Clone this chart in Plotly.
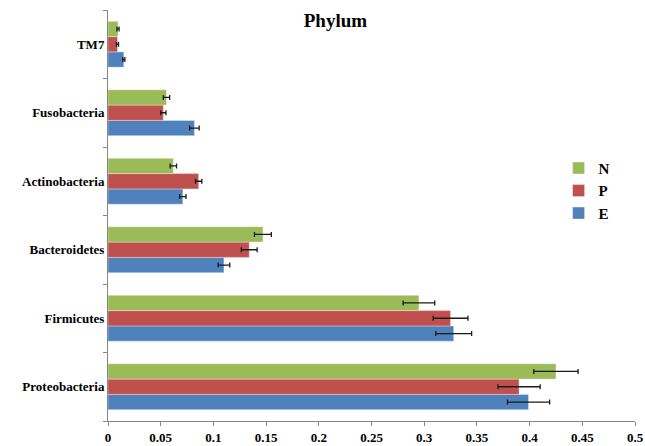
import plotly.graph_objects as go

# Phylum-level relative abundance (mean ± SE) for groups E, P, N
phyla = ["Proteobacteria", "Firmicutes", "Bacteroidetes",
         "Actinobacteria", "Fusobacteria", "TM7"]

e_vals = [0.399, 0.328, 0.110, 0.071, 0.082, 0.015]
e_err = [0.020, 0.017, 0.0055, 0.003, 0.0045, 0.001]

p_vals = [0.390, 0.325, 0.134, 0.086, 0.0525, 0.009]
p_err = [0.020, 0.0165, 0.0075, 0.003, 0.0025, 0.001]

n_vals = [0.425, 0.295, 0.147, 0.062, 0.0555, 0.0095]
n_err = [0.021, 0.015, 0.008, 0.003, 0.003, 0.001]

x_ticks = [0, 0.05, 0.1, 0.15, 0.2, 0.25, 0.3, 0.35, 0.4, 0.45, 0.5]
x_tick_text = ["0", "0.05", "0.1", "0.15", "0.2", "0.25", "0.3",
               "0.35", "0.4", "0.45", "0.5"]

series = [
    ("E", e_vals, e_err, "#4F81BD"),
    ("P", p_vals, p_err, "#C0504D"),
    ("N", n_vals, n_err, "#9BBB59"),
]

FONT = "'Liberation Serif', 'Times New Roman', serif"

fig = go.Figure()
for name, vals, errs, color in series:
    fig.add_trace(go.Bar(
        y=phyla, x=vals, name="<b>%s</b>" % name, orientation="h",
        marker=dict(color=color, line=dict(color="rgba(255,255,255,0.6)", width=0.6)),
        error_x=dict(type="data", array=errs, visible=True,
                     color="#1a1a1a", thickness=1.3, width=2.5),
        legendgroup=name,
    ))

fig.update_layout(
    width=645, height=446,
    margin=dict(l=108, r=10, t=10, b=25, autoexpand=False),
    paper_bgcolor="white", plot_bgcolor="white",
    barmode="group", bargap=0.33, bargroupgap=0,
    font=dict(family=FONT, color="black"),
    title=dict(text="<b>Phylum</b>", x=0.52, xanchor="center",
               y=0.955, yanchor="middle",
               font=dict(family=FONT, size=19, color="black")),
    legend=dict(x=0.855, y=0.56, xanchor="left", yanchor="middle",
                traceorder="reversed", tracegroupgap=9,
                font=dict(family=FONT, size=15, color="black"),
                bgcolor="rgba(0,0,0,0)"),
    xaxis=dict(range=[0, 0.5], tickvals=x_ticks,
               ticktext=["<b>%s</b>" % t for t in x_tick_text],
               showgrid=False, zeroline=False, automargin=False,
               showline=True, linecolor="#868686", linewidth=1,
               ticks="outside", ticklen=4, tickcolor="#868686",
               tickfont=dict(family=FONT, size=13, color="black")),
    yaxis=dict(type="category", categoryorder="array", categoryarray=phyla,
               tickvals=phyla, ticktext=["<b>%s</b>" % p for p in phyla],
               showgrid=False, zeroline=False, automargin=False,
               showline=True, linecolor="#868686", linewidth=1,
               ticks="outside", ticklen=4, tickcolor="#868686",
               tickson="boundaries",
               tickfont=dict(family=FONT, size=13, color="black")),
)

fig.write_html("out.html")
